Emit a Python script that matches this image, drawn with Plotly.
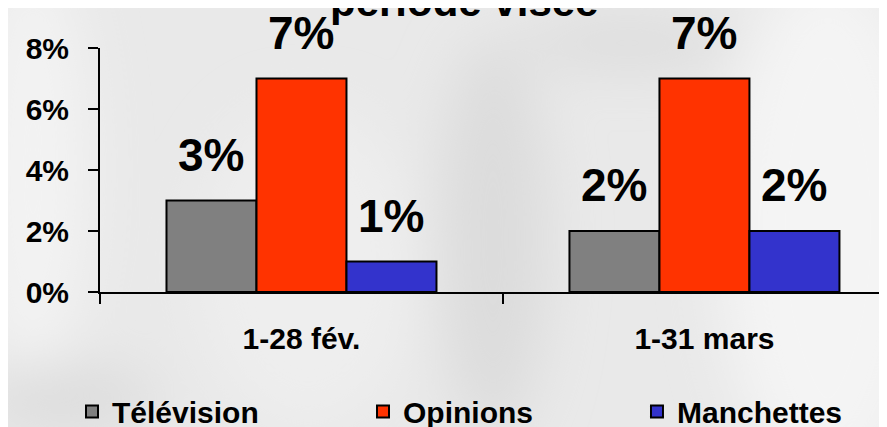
import base64
import plotly.graph_objects as go

periodes = ["1-28 fév.", "1-31 mars"]
series = ["Télévision", "Opinions", "Manchettes"]
valeurs = {
    "Télévision": [0.03, 0.02],
    "Opinions": [0.07, 0.07],
    "Manchettes": [0.01, 0.02],
}
couleurs = {"Télévision": "#808080", "Opinions": "#FF3300", "Manchettes": "#3333CC"}
titre = "période visée"
ticks_y = [0, 0.02, 0.04, 0.06, 0.08]

police = "Arial, Liberation Sans, sans-serif"
bargap = 0.33
legendes = ["legend", "legend2", "legend3"]
pos_legendes = [-0.0356, 0.3342, 0.6823]

# fond gris marbré (décor, flou léger)
fond_svg = """<svg xmlns='http://www.w3.org/2000/svg' width='879' height='419' viewBox='0 0 879 419'>
<defs><filter id='f' x='-50%' y='-50%' width='200%' height='200%'><feGaussianBlur stdDeviation='28'/></filter></defs>
<rect width='879' height='419' fill='#e9e9e9'/>
<g filter='url(#f)'>
<ellipse cx='25' cy='160' rx='55' ry='210' fill='#f3f3f3'/>
<ellipse cx='820' cy='220' rx='110' ry='260' fill='#f4f4f4'/>
<ellipse cx='300' cy='260' rx='110' ry='160' fill='#eeeeee'/>
<ellipse cx='485' cy='230' rx='55' ry='200' fill='#dcdcdc'/>
<ellipse cx='620' cy='35' rx='110' ry='22' fill='#dadada'/>
<ellipse cx='60' cy='390' rx='90' ry='28' fill='#dadada'/>
</g></svg>"""
fond_uri = "data:image/svg+xml;base64," + base64.b64encode(fond_svg.encode()).decode()

fig = go.Figure()
for s, lg in zip(series, legendes):
    fig.add_trace(go.Bar(
        name=s, x=periodes, y=valeurs[s], legend=lg,
        marker=dict(color=couleurs[s], line=dict(color="black", width=2)),
        hoverinfo="skip",
    ))

# étiquettes au-dessus des barres
largeur = (1 - bargap) / len(series)
for k, s in enumerate(series):
    for i, v in enumerate(valeurs[s]):
        fig.add_annotation(
            x=i + (k - (len(series) - 1) / 2) * largeur, y=v,
            xref="x", yref="y", text=f"{v:.0%}", showarrow=False,
            yanchor="bottom", yshift=18,
            font=dict(family=police, size=46, color="black", weight="bold"),
        )

fig.add_annotation(
    text=titre, xref="paper", yref="paper", x=0.4625, y=1.086,
    xanchor="center", yanchor="bottom", showarrow=False,
    font=dict(family=police, size=42, color="black", weight="bold"),
)

style_legende = dict(
    orientation="h", xanchor="left", y=-0.49, yanchor="middle",
    font=dict(family=police, size=30, weight="bold"),
    bgcolor="rgba(0,0,0,0)",
)
# la page ajoute une marge de 8 px autour du graphique : on la compense
fig.update_layout(
    width=879, height=419,
    margin=dict(l=92, r=0, t=40, b=135, autoexpand=False),
    barmode="group", bargap=bargap, bargroupgap=0,
    paper_bgcolor="#eaeaea", plot_bgcolor="rgba(0,0,0,0)",
    font=dict(family=police, color="black", weight="bold"),
    showlegend=True,
    legend=dict(x=pos_legendes[0], **style_legende),
    legend2=dict(x=pos_legendes[1], **style_legende),
    legend3=dict(x=pos_legendes[2], **style_legende),
    images=[dict(
        source=fond_uri, xref="paper", yref="paper",
        x=-92 / 787, y=284 / 244, sizex=879 / 787, sizey=419 / 244,
        xanchor="left", yanchor="top", sizing="stretch", layer="below",
    )],
)
fig.update_xaxes(
    type="category", range=[-0.5, 1.453], automargin=False,
    showline=True, linecolor="black", linewidth=2,
    ticks="outside", tickson="boundaries", ticklen=10, tickwidth=2, tickcolor="black",
    ticklabelstandoff=19,
    tickfont=dict(family=police, size=30, weight="bold"),
    showgrid=False, zeroline=False,
)
fig.update_yaxes(
    range=[0, 0.08], tickvals=ticks_y, tickformat=".0%", automargin=False,
    showline=True, linecolor="black", linewidth=2,
    ticks="outside", ticklen=10, tickwidth=2, tickcolor="black",
    ticklabelstandoff=13,
    tickfont=dict(family=police, size=30, weight="bold"),
    showgrid=False, zeroline=False,
)

fig.write_html("out.html")
